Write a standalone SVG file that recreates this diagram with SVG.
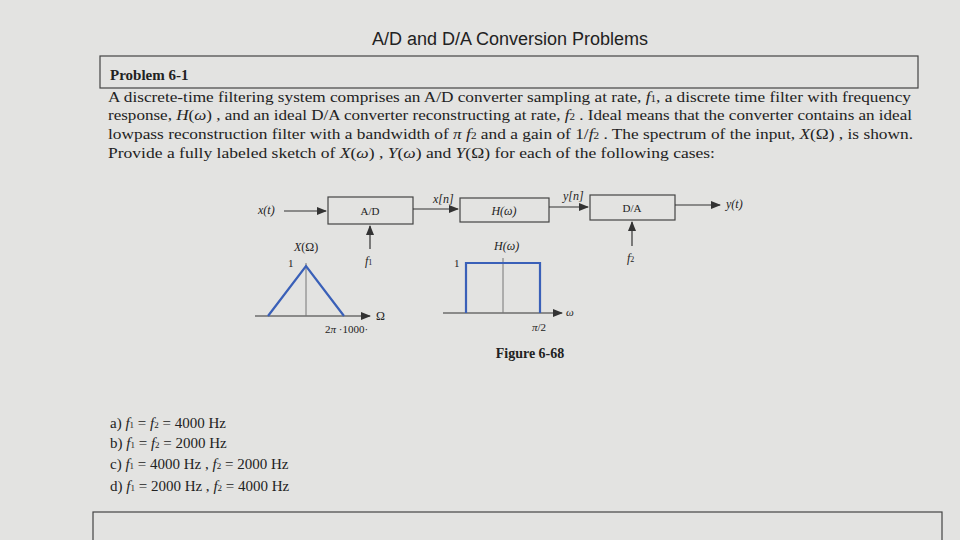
<svg xmlns="http://www.w3.org/2000/svg" width="960" height="540" viewBox="0 0 960 540">
<defs>
<style>
.s{font-family:"Liberation Serif",serif;fill:#222}
.b{font-weight:bold}
.i{font-style:italic}
.ln{stroke:#333;stroke-width:1.2;fill:none}
.bl{stroke:#3a60b8;stroke-width:2.2;fill:none}
.bx{fill:none;stroke:#444;stroke-width:1.2}
</style>
<marker id="ar" markerWidth="10" markerHeight="8" refX="9" refY="4" orient="auto" markerUnits="userSpaceOnUse"><path d="M0,0 L10,4 L0,8 Z" fill="#333"/></marker>
</defs>
<rect width="960" height="540" fill="#e3e3e1"/>
<text x="510" y="45" text-anchor="middle" font-family="Liberation Sans,sans-serif" font-size="18" fill="#222">A/D and D/A Conversion Problems</text>
<rect x="100" y="56" width="818" height="32" class="bx" stroke-width="1.5"/>
<text x="110" y="80" class="s b" font-size="15">Problem 6-1</text>
<g class="s" font-size="15.5">
<text x="108" y="102" textLength="803" lengthAdjust="spacingAndGlyphs">A discrete-time filtering system comprises an A/D converter sampling at rate, <tspan class="i">f</tspan><tspan font-size="10">1</tspan>, a discrete time filter with frequency</text>
<text x="108" y="120" textLength="804" lengthAdjust="spacingAndGlyphs">response, <tspan class="i">H</tspan>(<tspan class="i">ω</tspan>) , and an ideal D/A converter reconstructing at rate, <tspan class="i">f</tspan><tspan font-size="10">2</tspan> . Ideal means that the converter contains an ideal</text>
<text x="108" y="139" textLength="805" lengthAdjust="spacingAndGlyphs">lowpass reconstruction filter with a bandwidth of <tspan class="i">π f</tspan><tspan font-size="10">2</tspan> and a gain of 1/<tspan class="i">f</tspan><tspan font-size="10">2</tspan> . The spectrum of the input, <tspan class="i">X</tspan>(Ω) , is shown.</text>
<text x="108" y="158" textLength="607" lengthAdjust="spacingAndGlyphs">Provide a fully labeled sketch of <tspan class="i">X</tspan>(<tspan class="i">ω</tspan>) , <tspan class="i">Y</tspan>(<tspan class="i">ω</tspan>) and <tspan class="i">Y</tspan>(Ω) for each of the following cases:</text>
</g>
<g id="ad"><rect x="328" y="197" width="85" height="27" class="bx"/><text x="370" y="215" text-anchor="middle" class="s" font-size="11">A/D</text></g>
<g id="h"><rect x="460" y="198" width="89" height="24" class="bx"/><text x="504" y="215" text-anchor="middle" class="s i" font-size="12">H(ω)</text></g>
<g id="da"><rect x="590" y="195" width="85" height="25" class="bx"/><text x="632" y="212" text-anchor="middle" class="s" font-size="11">D/A</text></g>
<g id="connectors">
<line x1="284" y1="211" x2="326" y2="211" class="ln" marker-end="url(#ar)"/>
<line x1="413" y1="209" x2="458" y2="209" class="ln" marker-end="url(#ar)"/>
<line x1="549" y1="207" x2="588" y2="207" class="ln" marker-end="url(#ar)"/>
<line x1="675" y1="205" x2="720" y2="205" class="ln" marker-end="url(#ar)"/>
<line x1="370" y1="249" x2="370" y2="226" class="ln" marker-end="url(#ar)"/>
<line x1="632" y1="246" x2="632" y2="222" class="ln" marker-end="url(#ar)"/>
</g>
<g class="s" font-size="12">
<text x="258" y="214" class="i">x(t)</text>
<text x="433" y="203" class="i">x[n]</text>
<text x="563" y="200" class="i">y[n]</text>
<text x="726" y="208" class="i">y(t)</text>
<text x="365" y="265" class="i">f<tspan font-size="8" font-style="normal">1</tspan></text>
<text x="627" y="262" class="i">f<tspan font-size="8" font-style="normal">2</tspan></text>
</g>
<g id="xplot">
<line x1="255" y1="316" x2="370" y2="316" class="ln" marker-end="url(#ar)"/>
<line x1="306" y1="316" x2="306" y2="263" stroke="#777" stroke-width="1"/>
<polyline points="268,316 306,266 344,316" class="bl"/>
<text x="294" y="251" class="s" font-size="12"><tspan class="i">X</tspan>(Ω)</text>
<text x="288" y="267" class="s" font-size="11">1</text>
<text x="376" y="320" class="s" font-size="12">Ω</text>
<text x="325" y="333" class="s" font-size="11">2<tspan class="i">π</tspan> ·1000·</text>
</g>
<g id="hplot">
<line x1="443" y1="313" x2="562" y2="313" class="ln" marker-end="url(#ar)"/>
<line x1="503" y1="313" x2="503" y2="258" stroke="#777" stroke-width="1"/>
<polyline points="466,313 466,263 540,263 540,313" class="bl"/>
<text x="494" y="250" class="s i" font-size="12">H(ω)</text>
<text x="454" y="267" class="s" font-size="11">1</text>
<text x="566" y="316" class="s i" font-size="11">ω</text>
<text x="532" y="331" class="s" font-size="11"><tspan class="i">π</tspan>/2</text>
</g>
<text x="530" y="358" text-anchor="middle" class="s b" font-size="14">Figure 6-68</text>
<g class="s" font-size="15">
<text x="110" y="428">a) <tspan class="i">f</tspan><tspan font-size="9">1</tspan> = <tspan class="i">f</tspan><tspan font-size="9">2</tspan> = 4000 Hz</text>
<text x="110" y="448">b) <tspan class="i">f</tspan><tspan font-size="9">1</tspan> = <tspan class="i">f</tspan><tspan font-size="9">2</tspan> = 2000 Hz</text>
<text x="110" y="469">c) <tspan class="i">f</tspan><tspan font-size="9">1</tspan> = 4000 Hz , <tspan class="i">f</tspan><tspan font-size="9">2</tspan> = 2000 Hz</text>
<text x="110" y="491">d) <tspan class="i">f</tspan><tspan font-size="9">1</tspan> = 2000 Hz , <tspan class="i">f</tspan><tspan font-size="9">2</tspan> = 4000 Hz</text>
</g>
<rect x="93" y="512" width="849" height="40" class="bx" stroke-width="1.5"/>
</svg>
